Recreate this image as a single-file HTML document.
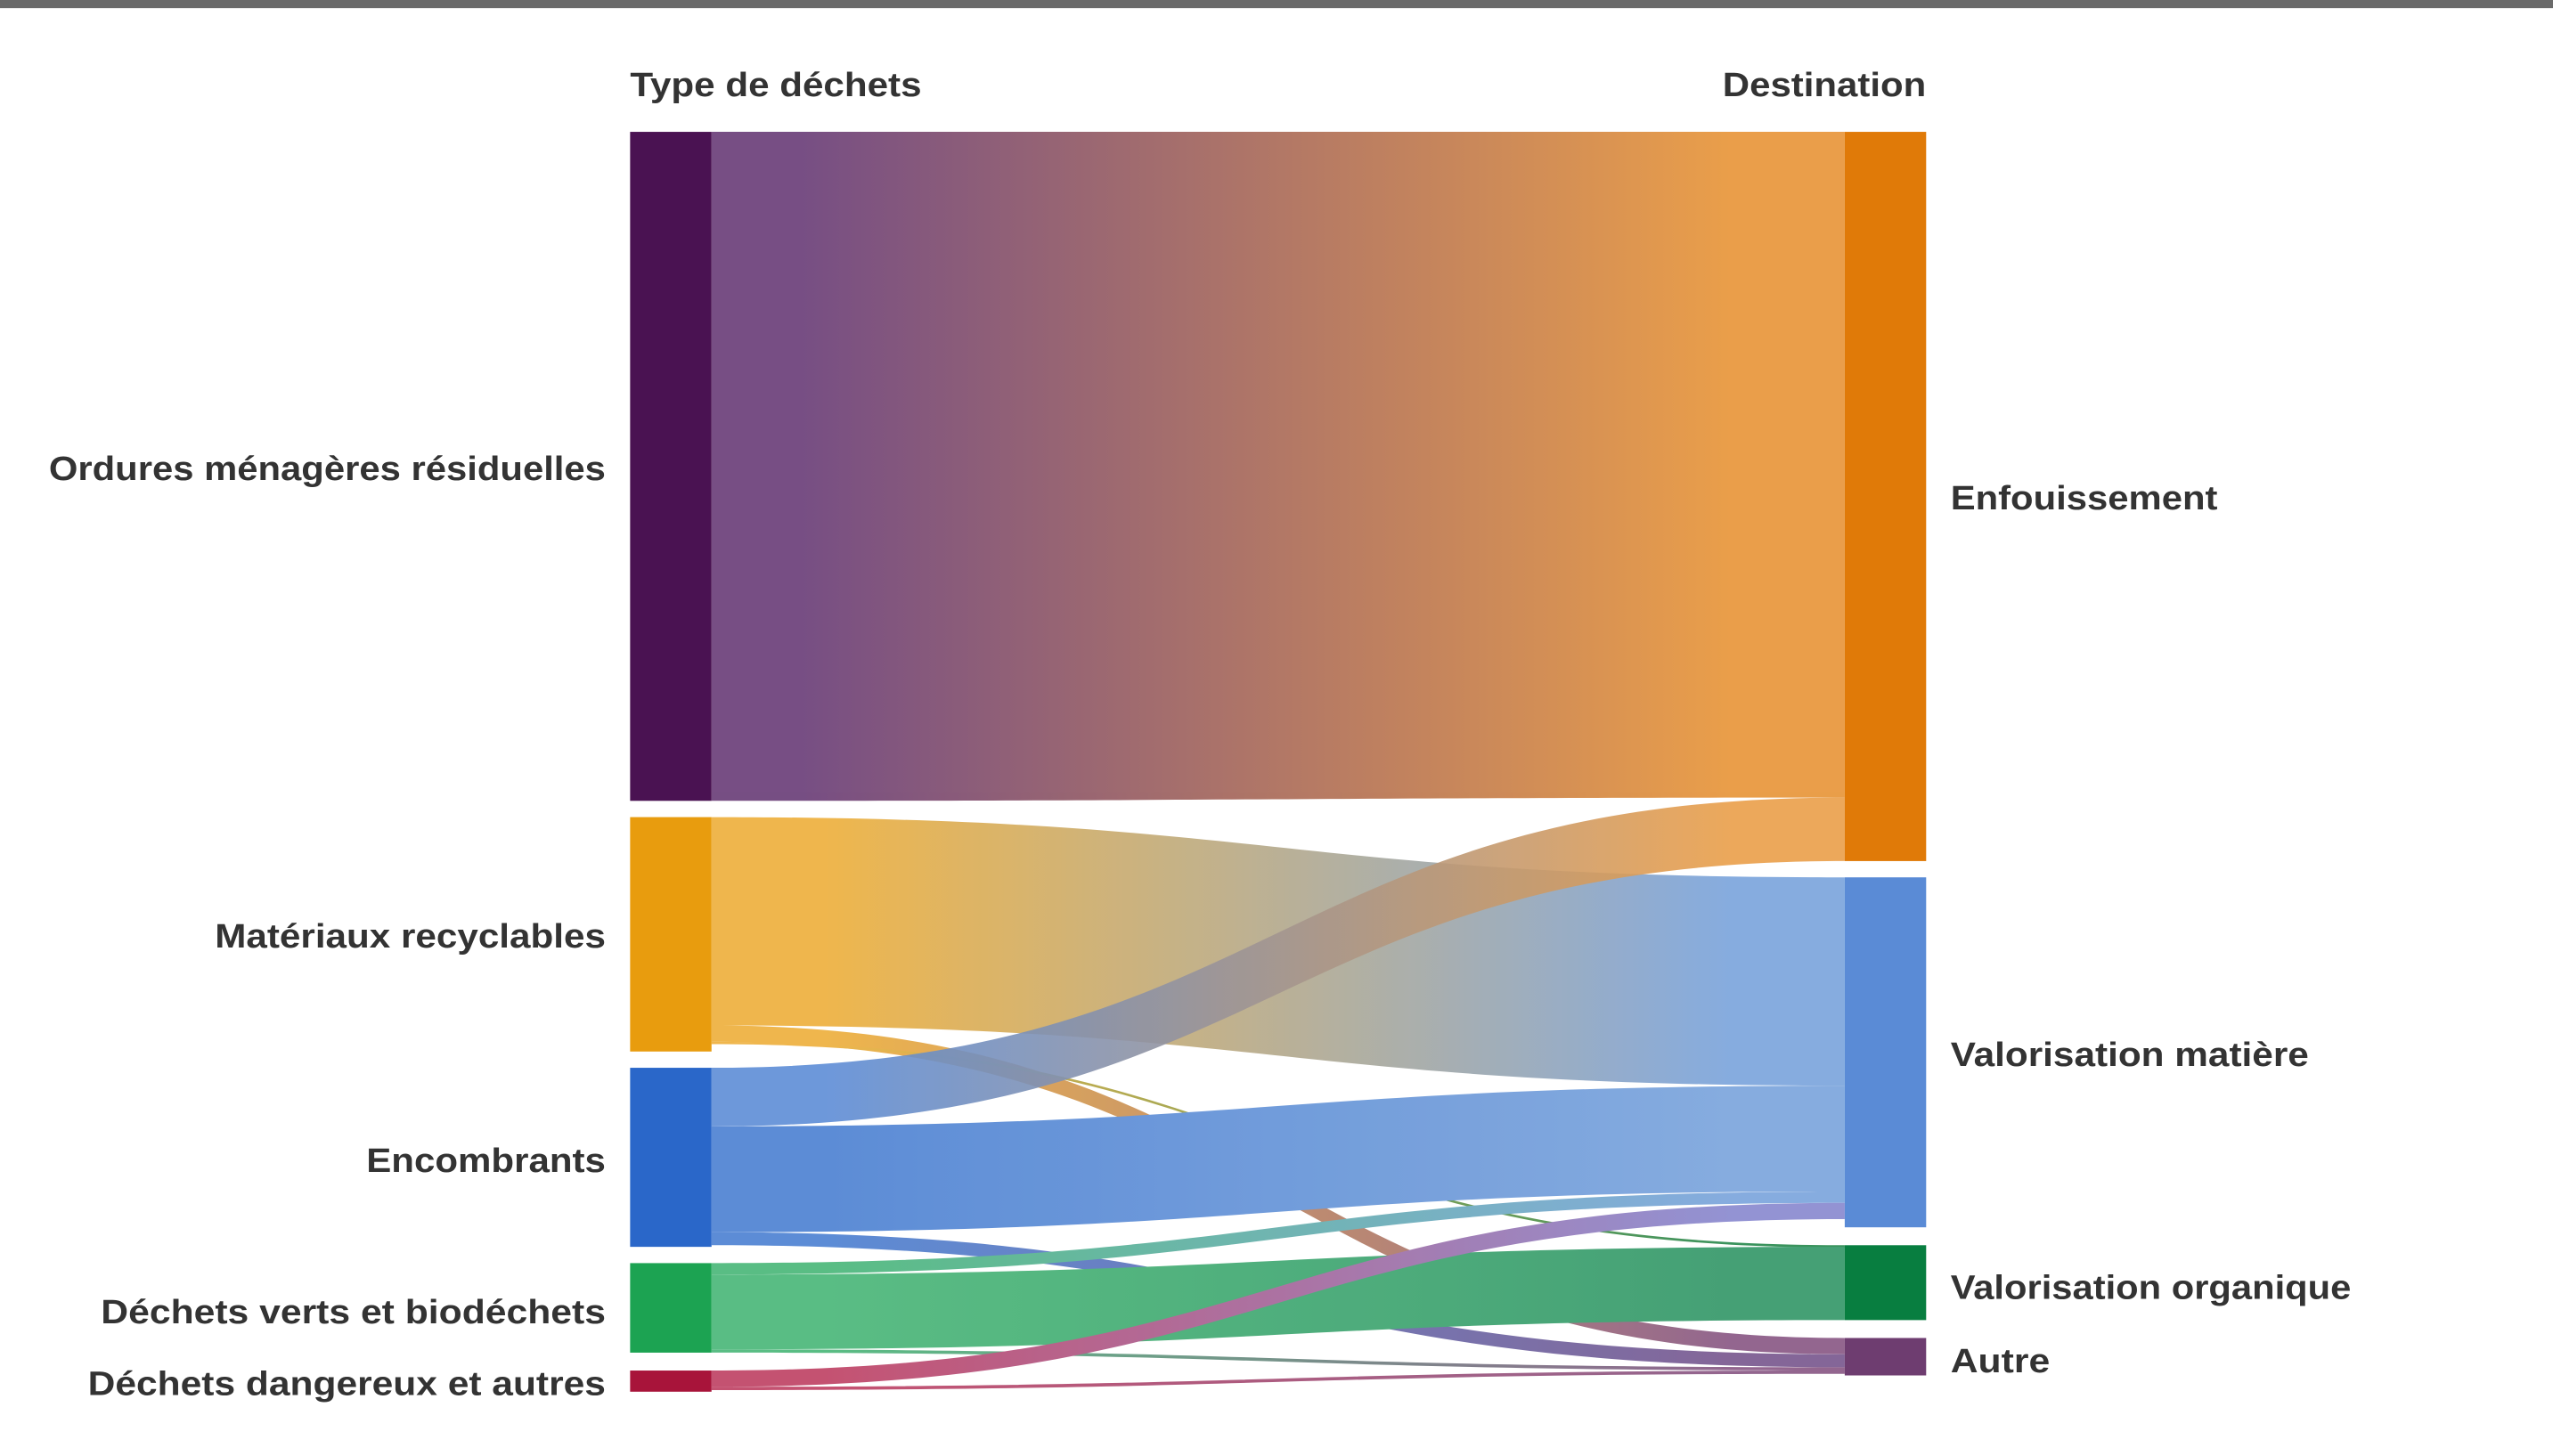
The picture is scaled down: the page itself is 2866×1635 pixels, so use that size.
<!DOCTYPE html>
<html><head><meta charset="utf-8"><style>
html,body{margin:0;padding:0;background:#fff;}
svg{display:block;}
text{font-family:"Liberation Sans",sans-serif;font-weight:bold;fill:#333;font-size:21px;}
</style></head><body>
<svg width="2866" height="1635" viewBox="0 0 1568 894.5" preserveAspectRatio="none">
<defs>
<linearGradient id="g1" x1="437" x2="1133" gradientUnits="userSpaceOnUse"><stop offset="0.08" stop-color="#6b3f79"/><stop offset="0.9" stop-color="#e8963a"/></linearGradient>
<linearGradient id="g2" x1="437" x2="1133" gradientUnits="userSpaceOnUse"><stop offset="0.1" stop-color="#eeb03e"/><stop offset="0.9" stop-color="#7ca5dd"/></linearGradient>
<linearGradient id="g3" x1="437" x2="1133" gradientUnits="userSpaceOnUse"><stop offset="0.1" stop-color="#eeb03e"/><stop offset="0.9" stop-color="#8a5a86"/></linearGradient>
<linearGradient id="g4" x1="437" x2="1133" gradientUnits="userSpaceOnUse"><stop offset="0.1" stop-color="#eeb03e"/><stop offset="0.9" stop-color="#2a8a50"/></linearGradient>
<linearGradient id="g5" x1="437" x2="1133" gradientUnits="userSpaceOnUse"><stop offset="0.1" stop-color="#4f83d3"/><stop offset="0.9" stop-color="#e8963a"/></linearGradient>
<linearGradient id="g6" x1="437" x2="1133" gradientUnits="userSpaceOnUse"><stop offset="0.1" stop-color="#4f83d3"/><stop offset="0.9" stop-color="#7ca5dd"/></linearGradient>
<linearGradient id="g7" x1="437" x2="1133" gradientUnits="userSpaceOnUse"><stop offset="0.1" stop-color="#4f83d3"/><stop offset="0.9" stop-color="#7a5a90"/></linearGradient>
<linearGradient id="g8" x1="437" x2="1133" gradientUnits="userSpaceOnUse"><stop offset="0.1" stop-color="#4cb87a"/><stop offset="0.9" stop-color="#7ca5dd"/></linearGradient>
<linearGradient id="g9" x1="437" x2="1133" gradientUnits="userSpaceOnUse"><stop offset="0.1" stop-color="#4cb87a"/><stop offset="0.9" stop-color="#36996a"/></linearGradient>
<linearGradient id="g10" x1="437" x2="1133" gradientUnits="userSpaceOnUse"><stop offset="0.1" stop-color="#4cb87a"/><stop offset="0.9" stop-color="#8a5a86"/></linearGradient>
<linearGradient id="g11" x1="437" x2="1133" gradientUnits="userSpaceOnUse"><stop offset="0.1" stop-color="#c04466"/><stop offset="0.9" stop-color="#8a8ad0"/></linearGradient>
<linearGradient id="g12" x1="437" x2="1133" gradientUnits="userSpaceOnUse"><stop offset="0.1" stop-color="#c04466"/><stop offset="0.9" stop-color="#8a5a86"/></linearGradient>
</defs>
<rect x="0" y="0" width="1568" height="5" fill="#6a6a6a"/>
<g opacity="0.92">
<path d="M437,81 C785,81 785,81 1133,81 L1133,490 C785,490 785,492 437,492 Z" fill="url(#g1)"/>
<path d="M437,502 C785,502 785,539 1133,539 L1133,667 C785,667 785,630 437,630 Z" fill="url(#g2)"/>
<path d="M437,630 C785,630 785,822 1133,822 L1133,832 C785,832 785,640 437,640 Z" fill="url(#g3)"/>
<path d="M437,640 C785,640 785,765 1133,765 L1133,766.5 C785,766.5 785,641.5 437,641.5 Z" fill="url(#g4)"/>
<path d="M437,656 C785,656 785,490 1133,490 L1133,529 C785,529 785,692 437,692 Z" fill="url(#g5)" opacity="0.9"/>
<path d="M437,692 C785,692 785,667 1133,667 L1133,732 C785,732 785,757 437,757 Z" fill="url(#g6)"/>
<path d="M437,757 C785,757 785,832 1133,832 L1133,840 C785,840 785,765 437,765 Z" fill="url(#g7)"/>
<path d="M437,776 C785,776 785,732 1133,732 L1133,739 C785,739 785,783 437,783 Z" fill="url(#g8)"/>
<path d="M437,783 C785,783 785,766 1133,766 L1133,811 C785,811 785,829 437,829 Z" fill="url(#g9)"/>
<path d="M437,829 C785,829 785,840 1133,840 L1133,842 C785,842 785,831 437,831 Z" fill="url(#g10)"/>
<path d="M437,842 C785,842 785,739 1133,739 L1133,749 C785,749 785,852 437,852 Z" fill="url(#g11)"/>
<path d="M437,852 C785,852 785,842 1133,842 L1133,844 C785,844 785,854 437,854 Z" fill="url(#g12)"/>
</g>
<rect x="387" y="81" width="50" height="411" fill="#4a1252"/>
<rect x="387" y="502" width="50" height="144" fill="#e89c0e"/>
<rect x="387" y="656" width="50" height="110" fill="#2a67c9"/>
<rect x="387" y="776" width="50" height="55" fill="#1ca352"/>
<rect x="387" y="842" width="50" height="13" fill="#a8143a"/>
<rect x="1133" y="81" width="50" height="448" fill="#e07a08"/>
<rect x="1133" y="539" width="50" height="215" fill="#5a8bd6"/>
<rect x="1133" y="765" width="50" height="46" fill="#087e40"/>
<rect x="1133" y="822" width="50" height="23" fill="#6e3d70"/>
<text x="387" y="59" textLength="179" lengthAdjust="spacingAndGlyphs">Type de déchets</text>
<text x="1183" y="59" text-anchor="end" textLength="125" lengthAdjust="spacingAndGlyphs">Destination</text>
<text x="372" y="295" text-anchor="end" textLength="342" lengthAdjust="spacingAndGlyphs">Ordures ménagères résiduelles</text>
<text x="372" y="582" text-anchor="end" textLength="240" lengthAdjust="spacingAndGlyphs">Matériaux recyclables</text>
<text x="372" y="720" text-anchor="end" textLength="147" lengthAdjust="spacingAndGlyphs">Encombrants</text>
<text x="372" y="813" text-anchor="end" textLength="310" lengthAdjust="spacingAndGlyphs">Déchets verts et biodéchets</text>
<text x="372" y="857" text-anchor="end" textLength="318" lengthAdjust="spacingAndGlyphs">Déchets dangereux et autres</text>
<text x="1198" y="313" textLength="164" lengthAdjust="spacingAndGlyphs">Enfouissement</text>
<text x="1198" y="655" textLength="220" lengthAdjust="spacingAndGlyphs">Valorisation matière</text>
<text x="1198" y="798" textLength="246" lengthAdjust="spacingAndGlyphs">Valorisation organique</text>
<text x="1198" y="843" textLength="61" lengthAdjust="spacingAndGlyphs">Autre</text>
</svg>
</body></html>
